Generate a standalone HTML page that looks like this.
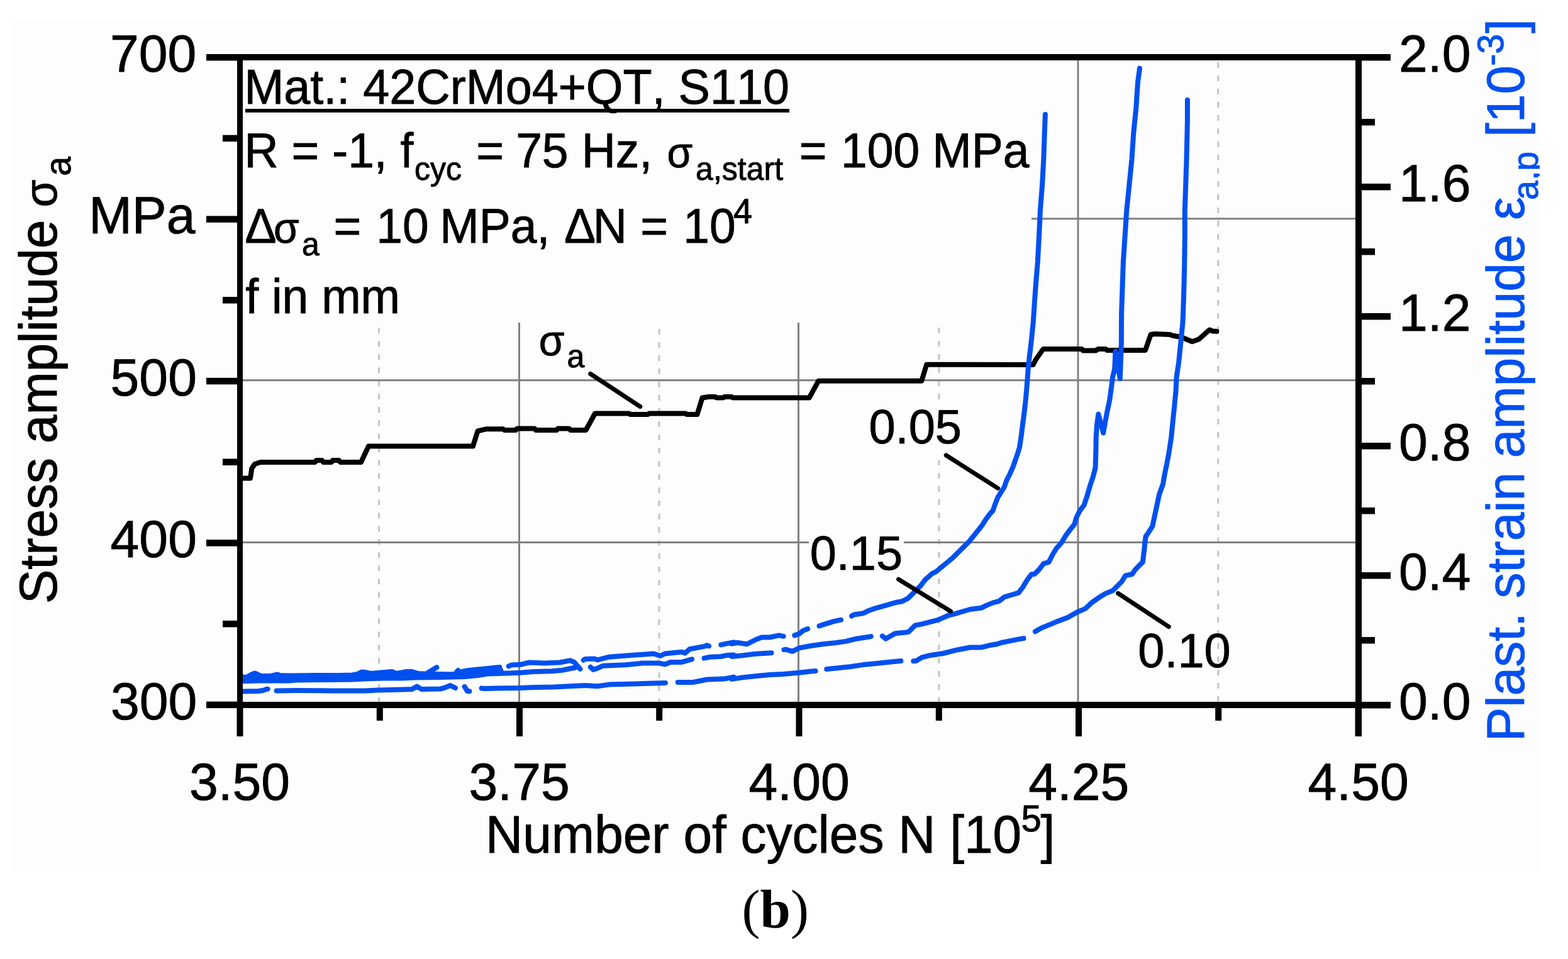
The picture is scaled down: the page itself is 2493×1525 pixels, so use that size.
<!DOCTYPE html>
<html><head><meta charset="utf-8"><title>Stress amplitude and plastic strain amplitude vs number of cycles</title>
<style>html,body{margin:0;padding:0;background:#fff;} svg{display:block;} text{font-family:'Liberation Sans', Arial, sans-serif;font-kerning:none;text-rendering:geometricPrecision;stroke-width:0.9px;stroke-linejoin:round;}</style>
</head><body>
<svg width="2493" height="1525" viewBox="0 0 2493 1525">
<defs><clipPath id="clipR"><rect x="0" y="0" width="2448" height="1525"/></clipPath></defs>
<rect width="2493" height="1525" fill="#fff"/>
<rect x="18" y="33" width="2430" height="1354" fill="#fdfdfd"/>
<rect x="824.0" y="96" width="3" height="1020" fill="#808080"/>
<rect x="1268.0" y="96" width="3" height="1020" fill="#808080"/>
<rect x="1712.5" y="96" width="3" height="1020" fill="#808080"/>
<line x1="602.5" y1="101.3" x2="602.5" y2="1116" stroke="#c4c4c4" stroke-width="3" stroke-dasharray="9.0 12 9 12"/>
<line x1="1048.0" y1="102.9" x2="1048.0" y2="1116" stroke="#c4c4c4" stroke-width="3" stroke-dasharray="9.0 12 9 12"/>
<line x1="1492.8" y1="101.0" x2="1492.8" y2="1116" stroke="#c4c4c4" stroke-width="3" stroke-dasharray="9.0 12 9 12"/>
<line x1="1936.8" y1="99.0" x2="1936.8" y2="1116" stroke="#c4c4c4" stroke-width="3" stroke-dasharray="9.0 12 9 12"/>
<rect x="386" y="346.3" width="1769" height="3" fill="#808080"/>
<rect x="386" y="603.2" width="1769" height="3" fill="#808080"/>
<rect x="386" y="861.0" width="1769" height="3" fill="#808080"/>
<rect x="386" y="96" width="1254" height="417" fill="#fdfdfd"/>
<rect x="1380" y="645" width="152" height="87" fill="#fdfdfd"/>
<rect x="1286" y="845" width="151" height="70" fill="#fdfdfd"/>
<path d="M386.0,760.5 L398.0,760.5 L400.3,745.0 L405.0,738.0 L414.0,735.0 L501.0,735.0 L503.0,732.0 L512.0,732.0 L514.0,735.0 L527.0,735.0 L529.0,732.0 L539.0,732.0 L541.0,735.0 L574.0,735.0 L586.0,709.5 L752.0,709.5 L759.5,685.5 L772.5,682.3 L800.0,682.3 L802.0,684.0 L820.0,684.0 L822.0,681.5 L850.0,681.5 L852.0,684.0 L885.0,684.0 L887.0,681.5 L905.0,681.5 L907.0,684.0 L931.5,684.0 L946.0,657.5 L1000.0,657.5 L1002.0,659.0 L1030.0,659.0 L1032.0,657.5 L1090.0,657.5 L1092.0,659.0 L1108.5,659.0 L1116.6,632.5 L1127.0,631.0 L1137.0,631.0 L1139.0,632.5 L1150.0,632.5 L1152.0,631.0 L1163.0,631.0 L1165.0,632.5 L1286.7,632.5 L1301.3,605.7 L1465.3,605.7 L1473.2,579.8 L1642.6,580.0 L1646.7,572.0 L1658.7,555.0 L1720.0,555.0 L1722.0,557.5 L1742.0,557.5 L1746.0,555.0 L1758.0,555.0 L1760.0,557.0 L1821.0,557.0 L1829.6,532.0 L1836.0,531.0 L1860.0,532.0 L1863.6,533.5 L1878.5,536.3 L1895.5,543.3 L1906.0,539.4 L1923.0,524.6 L1928.0,526.5 L1934.4,526.9" fill="none" stroke="#000" stroke-width="8.0" stroke-linejoin="round" stroke-linecap="round"/>
<path d="M1661.9,182.0 L1660.7,212.4 L1659.3,253.3 L1657.1,294.1 L1653.9,334.9 L1652.0,375.7 L1649.8,416.5 L1646.5,457.3 L1644.9,480.0 L1642.8,511.8 L1639.6,543.7 L1636.4,570.0 L1635.4,580.0 L1634.6,588.0 L1633.4,604.0 L1632.2,620.0 L1630.6,637.3 L1629.0,651.6 L1627.5,663.6 L1625.9,675.5 L1623.9,691.4 L1622.6,700.6 L1621.0,711.2 L1617.8,721.8 L1614.1,732.4 L1610.4,743.0 L1605.6,753.7 L1600.3,764.3 L1596.6,774.9 L1591.8,782.3 L1586.5,790.8 L1582.3,801.4 L1578.6,812.0 L1573.8,817.3 L1567.4,825.8 L1562.1,834.3 L1558.6,838.9 L1549.6,850.2 L1540.6,861.4 L1529.3,872.7 L1515.7,886.2 L1502.2,897.5 L1488.7,908.8 L1481.9,912.1 L1470.6,922.3 L1463.8,931.3 L1452.6,942.6 L1443.5,951.7 L1434.5,956.2 L1423.3,958.3 L1408.4,962.6 L1393.5,966.8 L1380.8,971.1 L1372.3,975.3 L1357.5,977.5 L1354.1,979.7" fill="none" stroke="#0050F0" stroke-width="8.0" stroke-linejoin="round" stroke-linecap="round"/>
<path d="M1337.0,985.7 L1325.6,988.1 L1308.6,993.4 L1302.5,995.5" fill="none" stroke="#0050F0" stroke-width="8.0" stroke-linejoin="round" stroke-linecap="round"/>
<path d="M1284.1,1000.0 L1276.8,1002.9 L1270.4,1008.2 L1263.2,1010.4" fill="none" stroke="#0050F0" stroke-width="8.0" stroke-linejoin="round" stroke-linecap="round"/>
<path d="M1245.7,1011.8 L1238.6,1010.4 L1223.7,1013.5 L1211.0,1013.5 L1202.5,1016.7 L1187.6,1024.2 L1172.7,1022.0 L1163.5,1023.6" fill="none" stroke="#0050F0" stroke-width="8.0" stroke-linejoin="round" stroke-linecap="round"/>
<path d="M1812.0,108.6 L1809.0,130.8 L1806.3,171.6 L1802.2,212.4 L1799.5,253.3 L1795.4,294.1 L1791.3,334.9 L1788.6,375.7 L1785.9,416.5 L1784.5,457.3 L1783.1,498.2 L1782.9,543.7 L1781.8,575.5 L1780.8,602.1 L1773.4,558.6 L1772.3,586.2 L1769.0,600.0 L1766.6,619.1 L1764.3,635.8 L1760.7,652.6 L1757.1,671.7 L1754.2,688.4 L1749.9,671.7 L1746.3,658.5 L1743.9,676.5 L1742.7,695.6 L1742.3,719.5 L1741.6,743.4 L1738.0,757.7 L1733.2,772.0 L1728.4,788.8 L1723.6,803.1 L1716.5,812.7 L1711.7,822.2 L1708.1,834.2 L1702.1,841.3 L1695.0,850.9 L1687.8,862.8 L1679.4,872.4 L1673.5,882.0 L1667.5,893.9 L1659.1,896.3 L1651.9,905.9 L1644.8,913.0 L1639.8,913.3 L1633.1,922.3 L1626.3,933.6 L1619.5,942.6 L1608.2,946.0 L1596.8,949.4 L1587.9,956.2 L1578.9,958.4 L1568.5,962.6 L1560.0,966.8 L1542.2,969.0 L1520.9,975.3 L1508.2,978.5 L1491.2,985.9 L1478.5,989.1 L1465.7,992.3 L1455.1,994.4 L1444.5,1005.0 L1436.0,1006.1 L1423.3,1007.2 L1408.4,1015.7 L1402.9,1011.5" fill="none" stroke="#0050F0" stroke-width="8.0" stroke-linejoin="round" stroke-linecap="round"/>
<path d="M1384.7,1012.1 L1382.9,1012.5 L1361.7,1015.7 L1344.7,1019.9 L1329.9,1022.0 L1308.6,1024.2 L1287.4,1027.3 L1270.4,1030.5 L1259.8,1035.8 L1249.2,1032.7 L1246.4,1033.1" fill="none" stroke="#0050F0" stroke-width="8.0" stroke-linejoin="round" stroke-linecap="round"/>
<path d="M1226.5,1038.2 L1198.2,1040.1 L1181.2,1042.2 L1163.6,1043.9" fill="none" stroke="#0050F0" stroke-width="8.0" stroke-linejoin="round" stroke-linecap="round"/>
<path d="M1887.9,158.9 L1887.9,193.4 L1886.5,253.3 L1885.2,294.1 L1883.8,334.9 L1883.8,375.7 L1883.3,416.5 L1882.4,457.3 L1881.1,498.2 L1880.6,511.8 L1877.4,543.7 L1874.2,575.5 L1870.6,600.0 L1869.4,623.9 L1867.0,647.8 L1864.6,671.7 L1862.2,695.6 L1858.6,719.5 L1855.0,738.6 L1851.5,755.3 L1849.1,769.7 L1843.1,786.4 L1839.5,803.1 L1835.9,819.8 L1832.4,836.6 L1826.4,846.1 L1821.6,853.3 L1820.4,862.8 L1819.2,874.8 L1816.8,893.9 L1812.0,898.7 L1804.9,905.9 L1800.1,913.0 L1789.3,915.4 L1783.4,925.0 L1776.2,932.2 L1769.0,939.3 L1757.1,944.1 L1747.5,950.1 L1735.6,958.4 L1725.6,967.9 L1712.9,973.2 L1698.0,981.7 L1678.9,989.1 L1666.2,994.4 L1655.5,998.7 L1645.9,1004.3" fill="none" stroke="#0050F0" stroke-width="8.0" stroke-linejoin="round" stroke-linecap="round"/>
<path d="M1627.5,1015.1 L1623.7,1015.7 L1602.5,1019.9 L1591.8,1022.0 L1585.5,1024.2 L1572.7,1026.3 L1560.0,1029.5 L1542.2,1029.5 L1520.9,1033.7 L1499.7,1039.0 L1478.5,1042.2 L1465.7,1045.4 L1457.2,1050.7 L1452.3,1051.3" fill="none" stroke="#0050F0" stroke-width="8.0" stroke-linejoin="round" stroke-linecap="round"/>
<path d="M1432.4,1051.1 L1414.8,1052.8 L1393.5,1054.9 L1372.3,1057.1 L1351.1,1060.2 L1329.9,1062.4 L1314.3,1064.1" fill="none" stroke="#0050F0" stroke-width="8.0" stroke-linejoin="round" stroke-linecap="round"/>
<path d="M1296.5,1066.9 L1287.4,1067.7 L1270.4,1069.8 L1244.9,1071.9 L1223.7,1073.0 L1202.5,1075.1 L1181.2,1077.2 L1163.6,1079.9" fill="none" stroke="#0050F0" stroke-width="8.0" stroke-linejoin="round" stroke-linecap="round"/>
<path d="M382.0,1075.0 L390.0,1077.5 L396.0,1075.0 L400.0,1072.5 L405.0,1070.5 L410.0,1072.5 L415.0,1075.0 L430.0,1075.0 L437.0,1073.5 L441.0,1072.5 L445.0,1074.0 L460.0,1074.5 L500.0,1074.0 L540.0,1074.0 L560.0,1073.5 L568.0,1072.0 L575.0,1068.5 L580.0,1069.0 L590.0,1071.0 L623.0,1068.0 L630.0,1071.0 L647.0,1068.0 L655.0,1068.0 L665.0,1071.0 L676.4,1071.4" fill="none" stroke="#0050F0" stroke-width="8.0" stroke-linejoin="round" stroke-linecap="round"/>
<path d="M681.1,1069.2 L694.4,1061.3" fill="none" stroke="#0050F0" stroke-width="8.0" stroke-linejoin="round" stroke-linecap="round"/>
<path d="M683.6,1071.6 L700.0,1072.0 L720.0,1072.5 L720.9,1071.9" fill="none" stroke="#0050F0" stroke-width="8.0" stroke-linejoin="round" stroke-linecap="round"/>
<path d="M726.6,1067.6 L728.4,1065.9" fill="none" stroke="#0050F0" stroke-width="8.0" stroke-linejoin="round" stroke-linecap="round"/>
<path d="M734.5,1067.9 L745.0,1066.0 L760.0,1064.5 L775.0,1063.0 L794.4,1061.1" fill="none" stroke="#0050F0" stroke-width="8.0" stroke-linejoin="round" stroke-linecap="round"/>
<path d="M808.8,1059.4 L812.8,1057.6 L827.4,1056.8 L841.2,1053.5 L865.5,1054.4 L889.9,1053.5 L906.1,1050.3 L912.6,1052.7 L922.4,1063.8" fill="none" stroke="#0050F0" stroke-width="8.0" stroke-linejoin="round" stroke-linecap="round"/>
<path d="M382.0,1083.0 L395.0,1083.0 L410.0,1082.5 L460.0,1082.5 L470.0,1081.5 L520.0,1081.0 L560.0,1080.5 L580.0,1079.5 L610.0,1078.5 L640.0,1078.5 L660.0,1077.5 L700.0,1077.0 L740.0,1076.0 L760.0,1074.0 L776.2,1071.4 L808.7,1070.6 L827.4,1069.8 L849.3,1068.1 L877.7,1067.3 L893.9,1065.7 L910.2,1062.5 L914.5,1061.7" fill="none" stroke="#0050F0" stroke-width="8.0" stroke-linejoin="round" stroke-linecap="round"/>
<path d="M386.0,1078.0 L480.0,1077.5 L580.0,1075.0 L700.0,1074.0 L760.0,1069.0 L796.4,1066.3" fill="none" stroke="#0050F0" stroke-width="8.0" stroke-linejoin="round" stroke-linecap="round"/>
<path d="M382.0,1099.5 L410.0,1099.0 L418.0,1098.0 L425.0,1095.5 L425.6,1095.7" fill="none" stroke="#0050F0" stroke-width="8.0" stroke-linejoin="round" stroke-linecap="round"/>
<path d="M439.6,1098.4 L470.0,1098.0 L530.0,1098.5 L580.0,1098.5 L600.0,1097.5 L640.0,1096.5 L655.0,1096.0 L663.0,1091.5 L670.0,1096.0 L700.0,1095.5 L706.0,1094.0 L716.0,1090.0 L724.0,1094.0" fill="none" stroke="#0050F0" stroke-width="8.0" stroke-linejoin="round" stroke-linecap="round"/>
<path d="M738.6,1091.9 L740.0,1094.0 L743.0,1099.0 L746.4,1099.2" fill="none" stroke="#0050F0" stroke-width="8.0" stroke-linejoin="round" stroke-linecap="round"/>
<path d="M765.6,1094.4 L770.0,1095.0 L790.0,1094.5 L825.0,1094.1 L850.0,1093.0 L880.0,1092.5 L930.5,1090.0 L950.0,1091.3 L967.9,1088.6 L1030.4,1086.8 L1058.0,1086.0" fill="none" stroke="#0050F0" stroke-width="8.0" stroke-linejoin="round" stroke-linecap="round"/>
<path d="M1077.7,1085.0 L1101.8,1085.0 L1124.1,1080.5 L1150.9,1079.6 L1166.5,1076.7" fill="none" stroke="#0050F0" stroke-width="8.0" stroke-linejoin="round" stroke-linecap="round"/>
<path d="M927.7,1049.8 L930.5,1047.9 L945.0,1047.5 L950.0,1049.3 L967.9,1044.8 L1003.6,1042.1 L1039.3,1039.5 L1050.0,1043.0 L1057.1,1039.5 L1083.9,1036.8 L1089.3,1038.6 L1096.4,1032.3 L1119.6,1027.9 L1124.1,1026.1 L1127.1,1027.4" fill="none" stroke="#0050F0" stroke-width="8.0" stroke-linejoin="round" stroke-linecap="round"/>
<path d="M1146.4,1025.3 L1155.4,1023.4 L1166.5,1021.4" fill="none" stroke="#0050F0" stroke-width="8.0" stroke-linejoin="round" stroke-linecap="round"/>
<path d="M938.8,1060.8 L943.4,1064.9 L950.0,1062.7 L958.9,1058.7 L994.6,1057.3 L1021.4,1054.6 L1048.2,1054.6 L1057.1,1056.4 L1066.1,1052.9 L1083.9,1052.9 L1100.0,1048.4" fill="none" stroke="#0050F0" stroke-width="8.0" stroke-linejoin="round" stroke-linecap="round"/>
<path d="M1119.6,1046.7 L1128.6,1044.8 L1146.4,1043.9 L1155.4,1042.1 L1166.4,1041.5" fill="none" stroke="#0050F0" stroke-width="8.0" stroke-linejoin="round" stroke-linecap="round"/>
<line x1="938.7" y1="594.5" x2="1017.8" y2="646.5" stroke="#000" stroke-width="7.0" stroke-linecap="round"/>
<line x1="1504.3" y1="724" x2="1586.5" y2="776.4" stroke="#000" stroke-width="7.0" stroke-linecap="round"/>
<line x1="1428.6" y1="921.2" x2="1511.4" y2="972.1" stroke="#000" stroke-width="7.0" stroke-linecap="round"/>
<line x1="1777.6" y1="943.5" x2="1858.3" y2="996.6" stroke="#000" stroke-width="7.0" stroke-linecap="round"/>
<rect x="377" y="86" width="9" height="1085" fill="#000"/>
<rect x="2155" y="86" width="10" height="1085" fill="#000"/>
<rect x="328" y="86" width="1883" height="10" fill="#000"/>
<rect x="328" y="1116" width="1883" height="10" fill="#000"/>
<rect x="328" y="86.0" width="50" height="10.5" fill="#000"/>
<rect x="328" y="343.4" width="50" height="10.5" fill="#000"/>
<rect x="328" y="600.8" width="50" height="10.5" fill="#000"/>
<rect x="328" y="858.2" width="50" height="10.5" fill="#000"/>
<rect x="328" y="1115.6" width="50" height="10.5" fill="#000"/>
<rect x="354" y="214.7" width="24" height="10.5" fill="#000"/>
<rect x="354" y="472.1" width="24" height="10.5" fill="#000"/>
<rect x="354" y="729.5" width="24" height="10.5" fill="#000"/>
<rect x="354" y="986.9" width="24" height="10.5" fill="#000"/>
<rect x="2164" y="1116.0" width="47" height="10.5" fill="#000"/>
<rect x="2164" y="1013.0" width="22" height="10.5" fill="#000"/>
<rect x="2164" y="910.0" width="47" height="10.5" fill="#000"/>
<rect x="2164" y="807.0" width="22" height="10.5" fill="#000"/>
<rect x="2164" y="704.0" width="47" height="10.5" fill="#000"/>
<rect x="2164" y="601.0" width="22" height="10.5" fill="#000"/>
<rect x="2164" y="498.0" width="47" height="10.5" fill="#000"/>
<rect x="2164" y="395.0" width="22" height="10.5" fill="#000"/>
<rect x="2164" y="292.0" width="47" height="10.5" fill="#000"/>
<rect x="2164" y="189.0" width="22" height="10.5" fill="#000"/>
<rect x="2164" y="86.0" width="47" height="10.5" fill="#000"/>
<rect x="376.5" y="1120" width="10" height="51" fill="#000"/>
<rect x="821.0" y="1120" width="10" height="51" fill="#000"/>
<rect x="1265.5" y="1120" width="10" height="51" fill="#000"/>
<rect x="1710.0" y="1120" width="10" height="51" fill="#000"/>
<rect x="2154.5" y="1120" width="10" height="51" fill="#000"/>
<rect x="598.8" y="1120" width="10" height="26" fill="#000"/>
<rect x="1043.2" y="1120" width="10" height="26" fill="#000"/>
<rect x="1487.8" y="1120" width="10" height="26" fill="#000"/>
<rect x="1932.2" y="1120" width="10" height="26" fill="#000"/>
<rect x="390" y="173.1" width="865" height="5.8" fill="#000"/>
<text transform="translate(174.90,114.00) scale(1,1.01)" font-size="82.3" fill="#000" stroke="#000">700</text>
<text transform="translate(141.18,371.40) scale(1,1.01)" font-size="82.3" fill="#000" stroke="#000">MPa</text>
<text transform="translate(175.60,628.80) scale(1,1.01)" font-size="82.3" fill="#000" stroke="#000">500</text>
<text transform="translate(175.60,886.20) scale(1,1.01)" font-size="82.3" fill="#000" stroke="#000">400</text>
<text transform="translate(175.90,1143.60) scale(1,1.01)" font-size="82.3" fill="#000" stroke="#000">300</text>
<text transform="translate(2224.00,1143.80) scale(1,1.01)" font-size="82.3" stroke="#000">0.0</text>
<text transform="translate(2224.00,937.80) scale(1,1.01)" font-size="82.3" stroke="#000">0.4</text>
<text transform="translate(2224.00,731.80) scale(1,1.01)" font-size="82.3" stroke="#000">0.8</text>
<text transform="translate(2224.00,525.80) scale(1,1.01)" font-size="82.3" stroke="#000">1.2</text>
<text transform="translate(2224.00,319.80) scale(1,1.01)" font-size="82.3" stroke="#000">1.6</text>
<text transform="translate(2224.00,113.80) scale(1,1.01)" font-size="82.3" stroke="#000">2.0</text>
<text transform="translate(300.95,1271.80) scale(1,1.01)" font-size="82.3" fill="#000" stroke="#000">3.50</text>
<text transform="translate(745.57,1271.80) scale(1,1.01)" font-size="82.3" fill="#000" stroke="#000">3.75</text>
<text transform="translate(1190.57,1271.80) scale(1,1.01)" font-size="82.3" fill="#000" stroke="#000">4.00</text>
<text transform="translate(1635.19,1271.80) scale(1,1.01)" font-size="82.3" fill="#000" stroke="#000">4.25</text>
<text transform="translate(2079.57,1271.80) scale(1,1.01)" font-size="82.3" fill="#000" stroke="#000">4.50</text>
<text transform="translate(0,1355.75) scale(1,1.03)" font-size="82" fill="#000" stroke="#000"><tspan x="772.02">Number of cycles N [10</tspan><tspan x="1623.58" dy="-32.72" font-size="58">5</tspan><tspan x="1654.56" dy="32.72">]</tspan></text>
<text transform="translate(90.20,956.60) rotate(-90) scale(1,1.03)" font-size="82" fill="#000" stroke="#000"><tspan x="-3.72">Stress amplitude </tspan><tspan x="627.12" font-size="71">σ</tspan><tspan x="676.94" dy="20.68" font-size="55.5">a</tspan></text>
<g clip-path="url(#clipR)"><text transform="translate(2423.00,1172.60) rotate(-90) scale(1,1.03)" font-size="82" fill="#0050F0" stroke="#0050F0"><tspan x="-6.73">Plast. strain amplitude ε</tspan><tspan x="854.64" dy="20.87" font-size="55.5">a,p</tspan><tspan dy="-20.87"> [10</tspan><tspan x="1067.87" dy="-32.04" font-size="57">-3</tspan><tspan x="1119.66" dy="32.04">]</tspan></text></g>
<text transform="translate(388.41,165.40) scale(1,1.035)" font-size="75.5" fill="#000" stroke="#000">Mat.: 42CrMo4+QT, S110</text>
<text transform="translate(0,266.40) scale(1,1.035)" font-size="75" fill="#000" stroke="#000"><tspan x="388.55">R = -1, f</tspan><tspan x="658.88" dy="19.32" font-size="50">cyc</tspan><tspan x="757.24" dy="-19.32">=</tspan><tspan x="820.15">75</tspan><tspan x="924.65">Hz, </tspan><tspan x="1060.53" font-size="66">σ</tspan><tspan x="1106.08" dy="19.32" font-size="50">a,start</tspan><tspan x="1270.64" dy="-19.32">=</tspan><tspan x="1337.09">100</tspan><tspan x="1482.25">MPa</tspan></text>
<text transform="translate(0,386.00) scale(1,1.035)" font-size="75" fill="#000" stroke="#000"><tspan x="389.57">Δ</tspan><tspan x="435.03" font-size="66">σ</tspan><tspan x="480.08" dy="19.13" font-size="50">a</tspan><tspan x="530.44" dy="-19.13">=</tspan><tspan x="598.29">10</tspan><tspan x="699.25">MPa, </tspan><tspan x="896.97">Δ</tspan><tspan x="942.85">N</tspan><tspan x="1018.34">=</tspan><tspan x="1086.19">10</tspan><tspan x="1165.96" dy="-30.14" font-size="54">4</tspan></text>
<text transform="translate(390.24,498.10) scale(1,1.035)" font-size="75" fill="#000" stroke="#000">f in mm</text>
<text x="1232.7" y="1474.5" font-size="87" text-anchor="middle" stroke="none" style="font-family:'Liberation Serif','Times New Roman',serif">(<tspan style="font-weight:bold">b</tspan>)</text>
<text transform="translate(1381.44,704.90) scale(1,1.01)" font-size="75.8" fill="#000" stroke="#000">0.05</text>
<text transform="translate(1287.64,905.60) scale(1,1.01)" font-size="75.8" fill="#000" stroke="#000">0.15</text>
<text transform="translate(1809.24,1060.70) scale(1,1.01)" font-size="75.8" fill="#000" stroke="#000">0.10</text>
<text transform="translate(0,565.00) scale(1,1.035)" font-size="75" fill="#000" stroke="#000"><tspan x="856.83" font-size="66">σ</tspan><tspan x="901.58" dy="17.87" font-size="50">a</tspan></text>
</svg>
</body></html>
